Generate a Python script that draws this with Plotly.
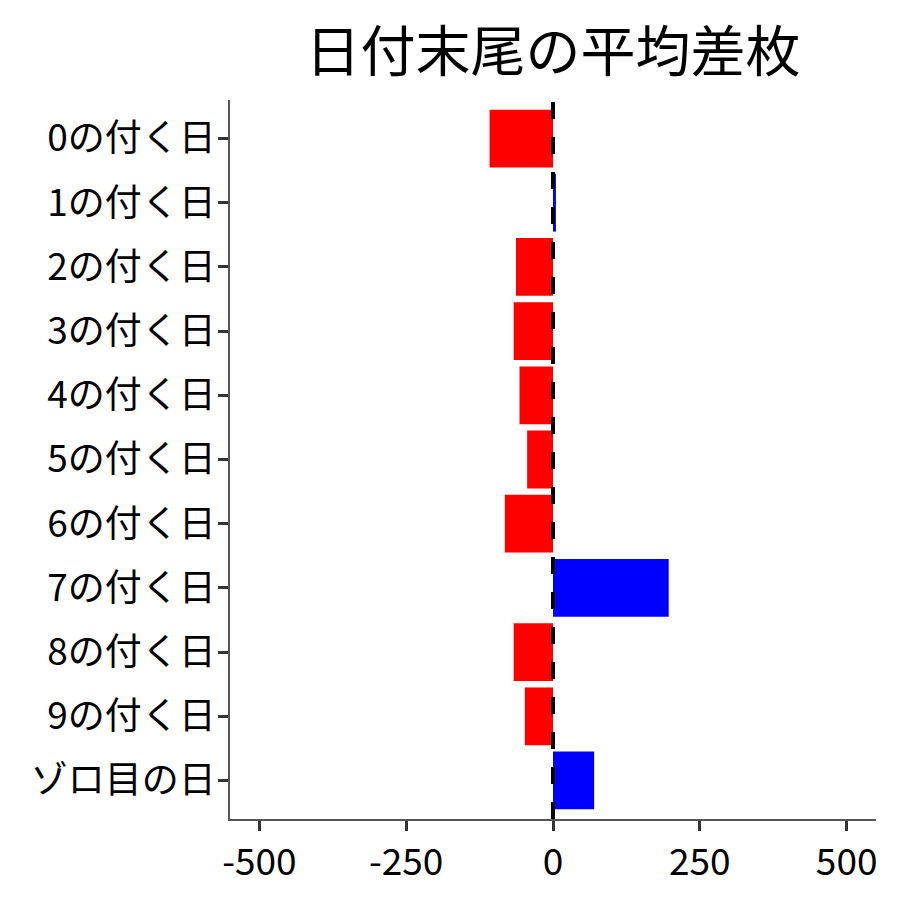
import plotly.graph_objects as go

categories = ["0の付く日", "1の付く日", "2の付く日", "3の付く日", "4の付く日",
              "5の付く日", "6の付く日", "7の付く日", "8の付く日", "9の付く日", "ゾロ目の日"]
values = [-108, 5, -63, -67, -57, -44, -82, 197, -67, -48, 70]
tick_vals = [-500, -250, 0, 250, 500]
tick_text = ["-500", "-250", "0", "250", "500"]

colors = ["#0000FF" if v > 0 else "#FF0000" for v in values]
FONT = "Noto Sans CJK JP, Noto Sans, sans-serif"

fig = go.Figure(go.Bar(
    x=values, y=categories, orientation="h",
    marker=dict(color=colors, line=dict(width=0)),
    width=0.9,
))

fig.add_shape(type="line", xref="x", yref="paper", x0=0, x1=0, y0=0, y1=1,
              line=dict(color="black", width=4, dash="17px,18px"), layer="above")

fig.update_layout(
    width=900, height=900,
    margin=dict(l=222, r=32, t=92, b=89, autoexpand=False),
    paper_bgcolor="white", plot_bgcolor="white",
    font=dict(family=FONT, size=38, color="black"),
    title=dict(text="日付末尾の平均差枚", x=0.5, xref="paper", xanchor="center",
               y=0.951, yref="container", yanchor="middle",
               font=dict(size=55, family=FONT, color="black")),
    showlegend=False,
)
fig.update_xaxes(range=[-550, 550], tickvals=tick_vals, ticktext=tick_text,
                 showgrid=False, zeroline=False, showline=True, linecolor="#555555",
                 linewidth=1.5, ticks="outside", ticklen=10, tickwidth=3,
                 tickcolor="#333333", tickfont=dict(size=37, color="black"),
                 automargin=False)
fig.update_yaxes(categoryorder="array", categoryarray=categories,
                 range=[10.6, -0.6], showgrid=False, zeroline=False, showline=True,
                 linecolor="#555555", linewidth=1.5, ticks="outside", ticklen=10,
                 tickwidth=3, tickcolor="#333333", tickfont=dict(size=37, color="black"),
                 ticklabelstandoff=-5, automargin=False)

fig.write_html("out.html")
